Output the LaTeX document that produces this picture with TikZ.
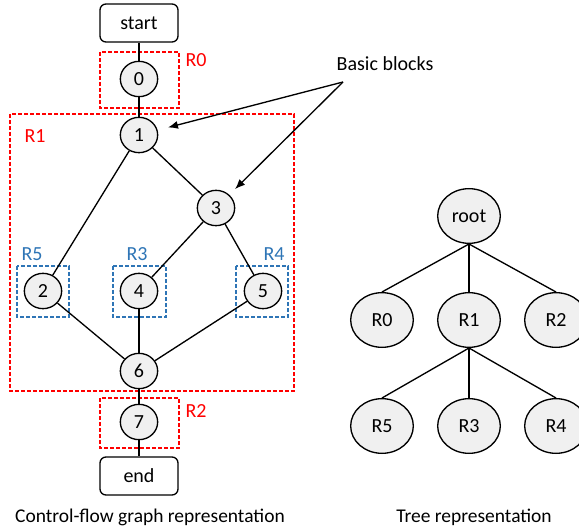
\documentclass[tikz,border=0pt]{standalone}
\usepackage{fontspec}
\setmainfont{Carlito}
\usepackage{xcolor}
\usepackage{tikz}
\usetikzlibrary{calc}
\usetikzlibrary{arrows,arrows.meta}
\usetikzlibrary{shapes.geometric}
\definecolor{regred}{RGB}{255,0,0}
\definecolor{regblue}{RGB}{46,117,182}
\definecolor{blockgray}{RGB}{240,240,240}
\tikzstyle{every node}=[font=\fontsize{15}{17}\selectfont]
\tikzstyle{block}=[draw, line width=1pt, ellipse, fill=blockgray, minimum width=28pt, minimum height=26.5pt, inner sep=0pt]
\tikzstyle{term}=[draw, line width=1pt, rounded corners=4.5pt, minimum width=58.5pt, minimum height=28.5pt]
\tikzstyle{treenode}=[draw, line width=1pt, ellipse, fill=blockgray, minimum width=47pt, minimum height=41pt, inner sep=0pt]
\tikzstyle{redbox}=[regred, line width=0.9pt, dash pattern=on 3pt off 1.5pt]
\tikzstyle{bluebox}=[regblue, line width=0.9pt, dash pattern=on 3pt off 1.5pt]
\tikzstyle{edge}=[line width=1pt]
\tikzstyle{caption}=[font=\fontsize{14.6}{17}\selectfont]

\begin{document}
\begin{tikzpicture}[>={Latex[length=7.5pt,width=6pt]}, x=0.75pt, y=-0.75pt]
                \useasboundingbox (0, 0) rectangle (579, 531);
                % regions
                \draw [redbox] (100, 52) rectangle (179, 108);
                \draw [redbox] (10, 114) rectangle (294, 391);
                \draw [redbox] (100, 398) rectangle (179, 448);
                \draw [bluebox] (17, 266) rectangle (69, 317);
                \draw [bluebox] (113, 266) rectangle (166, 317);
                \draw [bluebox] (236, 266) rectangle (288, 317);
                \node [regred] (lr0) at (196, 60) {R0};
                \node [regred] (lr1) at (35, 136) {R1};
                \node [regred] (lr2) at (196, 411) {R2};
                \node [regblue] (lr5) at (32, 254) {R5};
                \node [regblue] (lr3) at (137, 254) {R3};
                \node [regblue] (lr4) at (274, 254) {R4};
                % control-flow graph
                \node [term] (start) at (139, 23) {start};
                \node [block] (n0) at (139, 79) {0};
                \node [block] (n1) at (139, 135) {1};
                \node [block] (n3) at (216, 208) {3};
                \node [block] (n2) at (43, 291) {2};
                \node [block] (n4) at (139, 291) {4};
                \node [block] (n5) at (263, 291) {5};
                \node [block] (n6) at (139, 371) {6};
                \node [block] (n7) at (139, 422) {7};
                \node [term] (end) at (139, 476) {end};
                \draw [edge] (start) -- (n0);
                \draw [edge] (n0) -- (n1);
                \draw [edge] (n1) -- (n2);
                \draw [edge] (n1) -- (n3);
                \draw [edge] (n3) -- (n4);
                \draw [edge] (n3) -- (n5);
                \draw [edge] (n2) -- (n6);
                \draw [edge] (n4) -- (n6);
                \draw [edge] (n5) -- (n6);
                \draw [edge] (n6) -- (n7);
                \draw [edge] (n7) -- (end);
                % basic blocks pointer
                \node (bb) at (385, 64) {Basic blocks};
                \coordinate (bbfrom) at (343, 82);
                \draw [edge, ->, shorten >=8pt] (bbfrom) -- (n1);
                \draw [edge, ->, shorten >=6pt] (bbfrom) -- (n3);
                % tree
                \node [treenode] (root) at (469, 216) {root};
                \node [treenode] (t0) at (382, 320) {R0};
                \node [treenode] (t1) at (469, 320) {R1};
                \node [treenode] (t2) at (556, 320) {R2};
                \node [treenode] (t5) at (382, 426) {R5};
                \node [treenode] (t3) at (469, 426) {R3};
                \node [treenode] (t4) at (556, 426) {R4};
                \draw [edge] (root.south) -- (t0.north);
                \draw [edge] (root.south) -- (t1.north);
                \draw [edge] (root.south) -- (t2.north);
                \draw [edge] (t1.south) -- (t5.north);
                \draw [edge] (t1.south) -- (t3.north);
                \draw [edge] (t1.south) -- (t4.north);
                % captions
                \node [caption] (cfgcap) at (150, 517) {Control-flow graph representation};
                \node [caption] (treecap) at (474, 517) {Tree representation};
            \end{tikzpicture}
\end{document}
